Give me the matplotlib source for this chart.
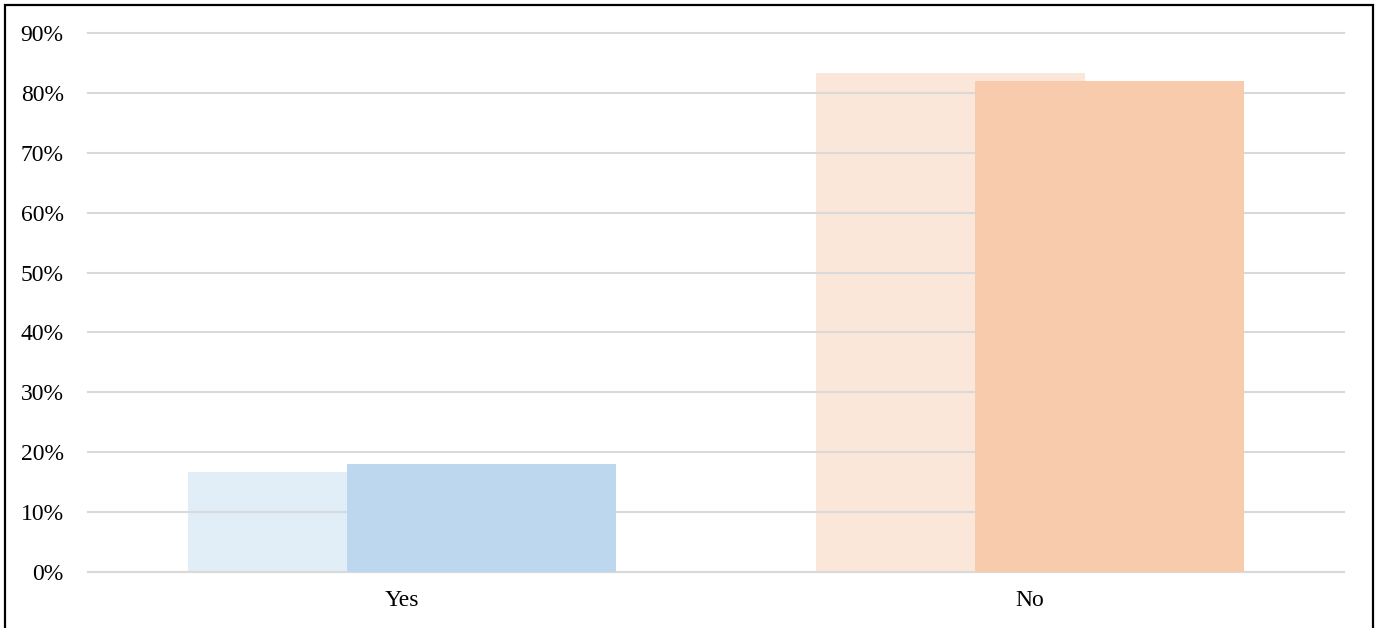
#!/usr/bin/env python3
"""Overlapping bar chart of Yes/No answer shares for two survey rounds."""

import matplotlib.pyplot as plt
import numpy as np
from matplotlib.patches import Rectangle
from matplotlib.ticker import FuncFormatter

categories = ["Yes", "No"]
first_round = [16.7, 83.3]
second_round = [18.0, 82.0]

# lighter / darker shade for each answer
first_colors = ["#DEEBF7", "#FBE5D6"]
second_colors = ["#BDD7EE", "#F8CBAD"]

plt.rcParams["font.family"] = ["Liberation Serif", "DejaVu Serif"]

W, H, DPI = 1378, 628, 100
fig = plt.figure(figsize=(W / DPI, H / DPI), dpi=DPI)
ax = fig.add_axes([88 / W, 1 - 572 / H, (1344 - 88) / W, (572 - 33) / H])

x = np.arange(len(categories))
width = 0.428
offset = 0.127

ax.bar(x - offset, first_round, width, color=first_colors, alpha=0.9, zorder=1)
ax.bar(x + offset, second_round, width, color=second_colors, zorder=3)

ax.set_xlim(-0.5, len(categories) - 0.5)
ax.set_ylim(0, 90)
ax.set_yticks(np.arange(0, 91, 10))
ax.yaxis.set_major_formatter(FuncFormatter(lambda v, _: f"{v:.0f}%"))
ax.set_xticks(x)
ax.set_xticklabels(categories)

ax.yaxis.grid(True, color="#D9D9D9", linewidth=1.5)
for line in ax.get_ygridlines():
    line.set_zorder(2)
    line.set_clip_on(False)
for side in ("top", "right", "left"):
    ax.spines[side].set_visible(False)
ax.spines["bottom"].set_color("#D9D9D9")
ax.spines["bottom"].set_linewidth(1.5)
ax.tick_params(axis="both", length=0, labelsize=17, colors="#000000")
ax.tick_params(axis="y", pad=17.5)
ax.tick_params(axis="x", pad=13)

# outer frame round the whole figure
fig.patches.append(Rectangle((5 / W, -0.05), (1373 - 5) / W, 1.05 - 5 / H,
                             transform=fig.transFigure, fill=False,
                             edgecolor="black", linewidth=1.6))

fig.savefig("out.png", dpi=DPI)
